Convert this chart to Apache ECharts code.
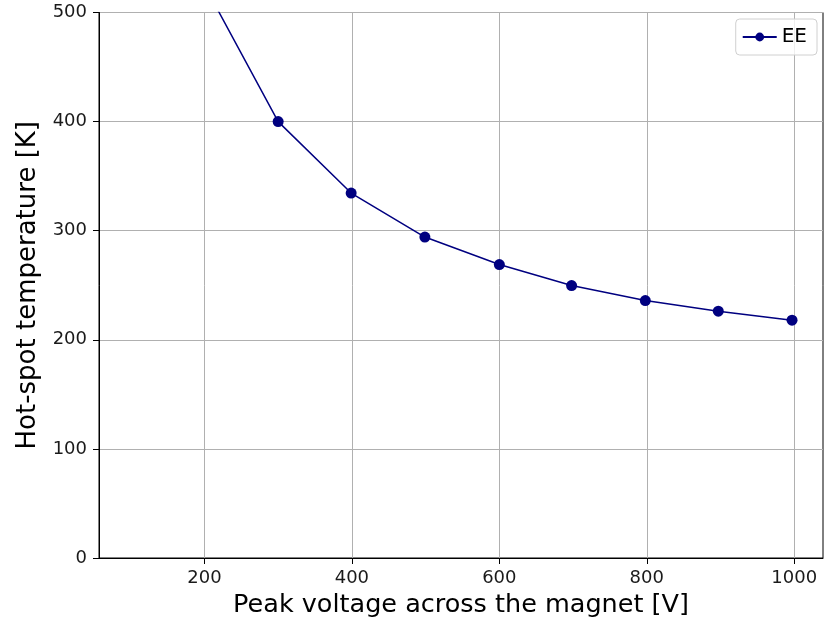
<!DOCTYPE html>
<html>
<head>
<meta charset="utf-8">
<script src="https://cdn.jsdelivr.net/npm/echarts@6/dist/echarts.min.js"></script>
<style>
html,body{margin:0;padding:0;background:#fff;}
#chart{width:831px;height:623px;}
</style>
</head>
<body>
<div id="chart"></div>
<script>
const voltages = [100, 200, 300, 399, 499, 600, 698, 798, 897, 997];
const temperatures = [920, 525, 400, 334.5, 294.2, 269, 249.7, 236, 226.2, 218];
const xTicks = [200, 400, 600, 800, 1000];
const seriesName = 'EE';
const xTitle = 'Peak voltage across the magnet [V]';
const yTitle = 'Hot-spot temperature [K]';

const font = 'DejaVu Sans';
const chart = echarts.init(document.getElementById('chart'), null, {renderer: 'canvas'});
chart.setOption({
  animation: false,
  backgroundColor: '#fff',
  grid: {left: 99, right: 8, top: 12.5, bottom: 65, show: true, borderColor: '#000', borderWidth: 1, containLabel: false},
  legend: {
    right: 14, top: 19,
    data: [seriesName],
    orient: 'vertical',
    backgroundColor: 'rgba(255,255,255,0.8)',
    borderColor: '#d0d0d0', borderWidth: 1, borderRadius: 4,
    padding: [8, 10, 8, 6],
    itemWidth: 34, itemHeight: 11, itemGap: 6,
    textStyle: {fontFamily: font, fontSize: 20, color: '#000'}
  },
  xAxis: {
    type: 'value', min: 57, max: 1039,
    name: xTitle, nameLocation: 'middle', nameGap: 34,
    nameTextStyle: {fontFamily: font, fontSize: 25.5, color: '#000'},
    axisLine: {show: true, onZero: false, lineStyle: {color: '#000', width: 1}},
    axisTick: {show: true, length: 6, customValues: xTicks, lineStyle: {color: '#000'}},
    axisLabel: {customValues: xTicks, formatter: v => String(v), fontFamily: font, fontSize: 18, color: '#1a1a1a', margin: 11},
    splitLine: {show: true, lineStyle: {color: '#b0b0b0', width: 1}}
  },
  yAxis: {
    type: 'value', min: 0, max: 500, interval: 100,
    name: yTitle, nameLocation: 'middle', nameGap: 58, nameRotate: 90,
    nameTextStyle: {fontFamily: font, fontSize: 26, color: '#000'},
    axisLine: {show: true, lineStyle: {color: '#000', width: 1}},
    axisTick: {show: true, length: 6, lineStyle: {color: '#000'}},
    axisLabel: {formatter: v => String(v), fontFamily: font, fontSize: 18, color: '#1a1a1a', margin: 12},
    splitLine: {show: true, lineStyle: {color: '#b0b0b0', width: 1}}
  },
  series: [{
    name: seriesName,
    type: 'line',
    data: voltages.map((v, i) => [v, temperatures[i]]),
    clip: true,
    symbol: 'circle', symbolSize: 11,
    itemStyle: {color: '#000080'},
    lineStyle: {color: '#000080', width: 1.5}
  }]
});
</script>
</body>
</html>
